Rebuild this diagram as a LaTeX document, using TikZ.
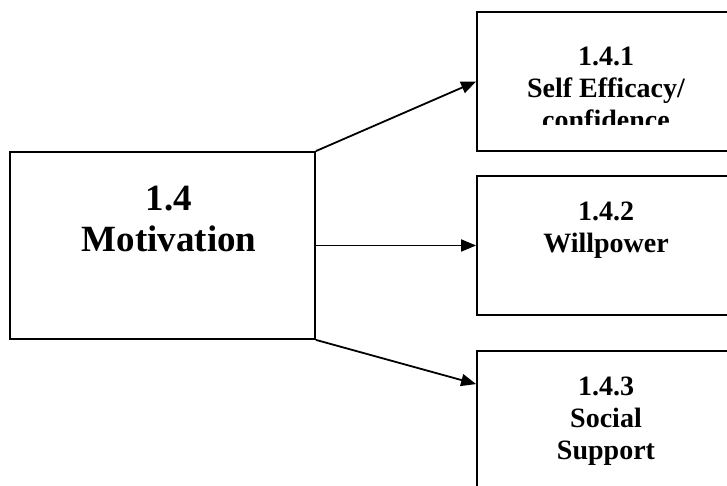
\documentclass[tikz,border=0pt]{standalone}
\usepackage{fontspec}
\setmainfont{Liberation Serif}
\usetikzlibrary{arrows.meta}

\begin{document}
\begin{tikzpicture}[x=1pt, y=1pt,
    box/.style={draw, line width=1.8pt, rectangle, inner sep=0pt},
    bigtxt/.style={align=center, anchor=base, font=\fontsize{37}{41}\selectfont\bfseries},
    smalltxt/.style={align=center, anchor=base, font=\fontsize{28}{32}\selectfont\bfseries},
    link/.style={line width=1.8pt, -{Triangle[length=15pt, width=12pt]}}]
      \clip (0, 0) rectangle (727, 486);
      % boxes
      \node[box, minimum width=305, minimum height=187] (mot) at (162.5, 240.5) {};
      \node[box, minimum width=258, minimum height=139] (eff) at (606, 404.5) {};
      \node[box, minimum width=258, minimum height=139] (will) at (606, 240.5) {};
      \node[box, minimum width=258, minimum height=139] (soc) at (606, 65.5) {};
      % texts (anchored on the baseline of the last line)
      \node[bigtxt] (motlbl) at (169, 234) {1.4\\Motivation};
      \begin{scope}
        \clip (470, 361) rectangle (740, 480);
        \node[smalltxt] (efflbl) at (606, 356) {1.4.1\\Self Efficacy/\\confidence};
      \end{scope}
      \node[smalltxt] (willlbl) at (606, 233) {1.4.2\\Willpower};
      \node[smalltxt] (soclbl) at (606, 26) {1.4.3\\Social\\Support};
      % arrows
      \draw[link] (mot.north east) -- (eff.west);
      \draw[link] (mot.east) -- (will.west);
      \draw[link] (mot.south east) -- ([yshift=-34pt]soc.north west);
    \end{tikzpicture}
\end{document}
